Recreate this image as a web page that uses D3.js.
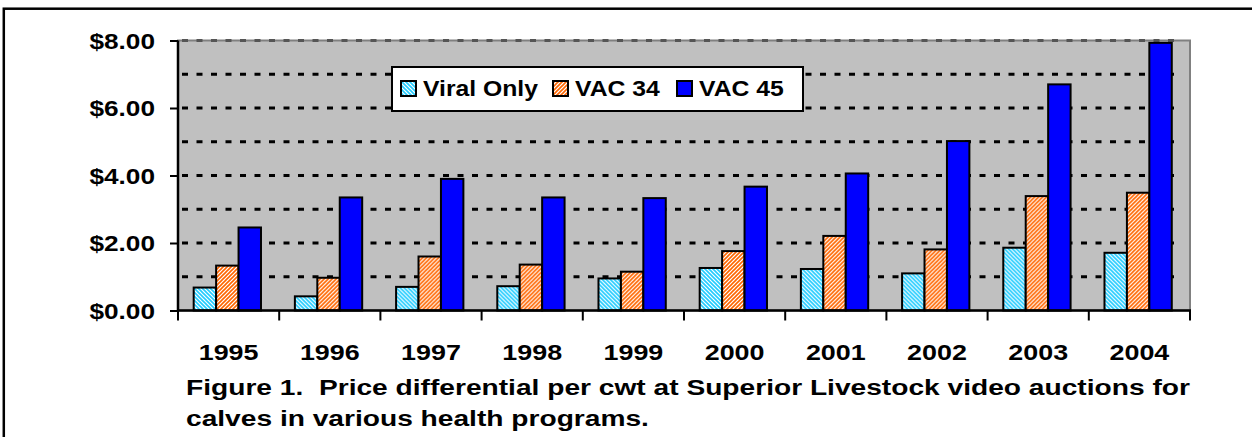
<!DOCTYPE html>
<html>
<head>
<meta charset="utf-8">
<script src="https://cdn.jsdelivr.net/npm/d3@7"></script>
<style>
  body { margin: 0; background: #fff; }
  svg text { font-family: "Liberation Sans", Arial, sans-serif; font-weight: bold; fill: #000; }
</style>
</head>
<body>
<svg id="chart" width="1252" height="437"></svg>
<script>
const years = ["1995", "1996", "1997", "1998", "1999", "2000", "2001", "2002", "2003", "2004"];
const seriesNames = ["Viral Only", "VAC 34", "VAC 45"];
const viralOnly = [0.68, 0.42, 0.70, 0.72, 0.95, 1.26, 1.23, 1.10, 1.86, 1.71];
const vac34 = [1.33, 0.97, 1.60, 1.36, 1.15, 1.76, 2.21, 1.81, 3.39, 3.49];
const vac45 = [2.46, 3.35, 3.90, 3.35, 3.33, 3.67, 4.06, 5.02, 6.70, 7.93];
const yTicks = [0, 2, 4, 6, 8];
const gridValues = [1, 2, 3, 4, 5, 6, 7, 8];
const captionLines = [
  "Figure 1.  Price differential per cwt at Superior Livestock video auctions for",
  "calves in various health programs."
];

const values = [viralOnly, vac34, vac45];
const fills = ["url(#pViral)", "url(#pVac34)", "#0000FF"];
const stretch = 1.25;

const svg = d3.select("#chart");

// hatch patterns
const defs = svg.append("defs");
function hatch(id, color, d) {
  const p = defs.append("pattern")
    .attr("id", id)
    .attr("patternUnits", "userSpaceOnUse")
    .attr("width", 4)
    .attr("height", 4);
  p.append("rect").attr("width", 4).attr("height", 4).attr("fill", "#fff");
  p.append("path").attr("d", d).attr("stroke", color).attr("stroke-width", 1.6);
}
hatch("pViral", "#22CCFF", "M-1,-1L5,5M-1,3L1,5M3,-1L5,1");
hatch("pVac34", "#FF6600", "M-1,5L5,-1M-1,1L1,-1M3,5L5,3");

// outer frame (runs off the right and bottom)
svg.append("rect")
  .attr("x", 3.8).attr("y", 8.7)
  .attr("width", 1400).attr("height", 600)
  .attr("fill", "none").attr("stroke", "#000").attr("stroke-width", 2.5);

const x = d3.scaleBand().domain(years).range([178, 1190]);
const xs = d3.scaleBand().domain(seriesNames)
  .range([x.bandwidth() * 0.155, x.bandwidth() * 0.82]);
const y = d3.scaleLinear().domain([0, 8]).range([310.5, 40.5]);

// plot area
svg.append("rect")
  .attr("x", 178).attr("y", y(8))
  .attr("width", 1190 - 178).attr("height", y(0) - y(8))
  .attr("fill", "#C0C0C0").attr("stroke", "#808080").attr("stroke-width", 2);

svg.append("g")
  .selectAll("line")
  .data(gridValues)
  .join("line")
  .attr("x1", 179).attr("x2", 1181)
  .attr("y1", d => y(d)).attr("y2", d => y(d))
  .attr("stroke", d => d === 8 ? "#555" : "#000")
  .attr("stroke-width", 2.8)
  .attr("stroke-dasharray", "6,8.5")
  .attr("stroke-dashoffset", -3);

// bars
const groups = svg.append("g")
  .selectAll("g")
  .data(years)
  .join("g")
  .attr("transform", d => `translate(${x(d)},0)`);

groups.selectAll("rect")
  .data((d, i) => seriesNames.map((s, k) => ({ s, k, v: values[k][i] })))
  .join("rect")
  .attr("x", d => xs(d.s))
  .attr("width", xs.bandwidth())
  .attr("y", d => y(d.v))
  .attr("height", d => y(0) - y(d.v))
  .attr("fill", d => fills[d.k])
  .attr("stroke", "#000")
  .attr("stroke-width", 2);

// y axis
const yAxis = svg.append("g")
  .attr("transform", "translate(178,0)")
  .call(d3.axisLeft(y).tickValues(yTicks).tickSize(8).tickFormat(d => "$" + d.toFixed(2)));
yAxis.select(".domain").attr("stroke", "#000").attr("stroke-width", 2.5)
  .attr("d", `M0,${y(8)}V${y(0)}`);
yAxis.selectAll(".tick line").attr("stroke", "#000").attr("stroke-width", 2);
yAxis.selectAll(".tick text")
  .attr("font-size", 21.5)
  .attr("x", -23 / 1.22)
  .attr("dy", "0.36em")
  .attr("transform", "scale(1.22,1)");

// x axis line and boundary ticks
svg.append("line")
  .attr("x1", 177).attr("x2", 1191)
  .attr("y1", y(0)).attr("y2", y(0))
  .attr("stroke", "#000").attr("stroke-width", 2.5);

svg.append("g")
  .selectAll("line")
  .data(years.map(d => x(d)).concat([x.range()[1]]))
  .join("line")
  .attr("x1", d => d).attr("x2", d => d)
  .attr("y1", y(0)).attr("y2", y(0) + 10)
  .attr("stroke", "#000").attr("stroke-width", 2);

svg.append("g")
  .selectAll("text")
  .data(years)
  .join("text")
  .attr("transform", d => `translate(${x(d) + x.bandwidth() / 2},360) scale(${stretch},1)`)
  .attr("text-anchor", "middle")
  .attr("font-size", 21.5)
  .text(d => d);

// legend
const legend = svg.append("g");
legend.append("rect")
  .attr("x", 392).attr("y", 67).attr("width", 411).attr("height", 44)
  .attr("fill", "#fff").attr("stroke", "#000").attr("stroke-width", 2);

const legendX = [401, 553, 677];
seriesNames.forEach((s, k) => {
  legend.append("rect")
    .attr("x", legendX[k]).attr("y", 81).attr("width", 15).attr("height", 15)
    .attr("fill", fills[k]).attr("stroke", "#000").attr("stroke-width", 2);
  legend.append("text")
    .attr("transform", `translate(${legendX[k] + 22},96) scale(1.15,1)`)
    .attr("font-size", 21.5)
    .text(s);
});

// caption
svg.append("g")
  .selectAll("text")
  .data(captionLines)
  .join("text")
  .attr("transform", (d, i) => `translate(186,${395 + i * 31}) scale(1.28,1)`)
  .attr("font-size", 22)
  .style("white-space", "pre")
  .text(d => d);
</script>
</body>
</html>
